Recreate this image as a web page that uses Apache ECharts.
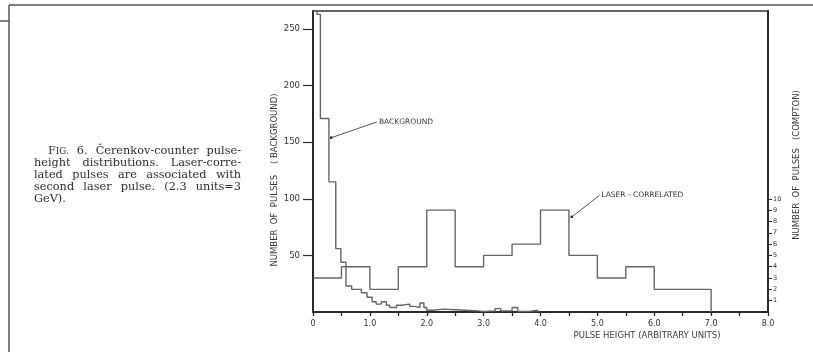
<!DOCTYPE html>
<html><head><meta charset="utf-8">
<script src="https://cdn.jsdelivr.net/npm/echarts@6/dist/echarts.min.js"></script>
<style>html,body{margin:0;padding:0;background:#fff}#c{width:813px;height:352px}</style>
</head><body><div id="c"></div>
<script>
// ---- data ----
const bgEdges  = [0,0.07,0.13,0.28,0.40,0.49,0.58,0.68,0.85,0.95,1.04,1.11,1.20,1.29,1.35,1.47,1.55,1.70,1.79,1.88,1.95,2.00,2.10,2.30,2.50,2.70,2.90,3.00,3.20,3.30,3.50,3.60,3.80,3.95];
const bgCounts = [266,263,171,115,56,44,23,20,17,13,9,7,9,6,4,6,7,5,4,8,4,1.5,2.5,2,1.5,1,0.5,1,3,1,4,0.5,1.5];
const laserEdges  = [0,0.5,1.0,1.5,2.0,2.5,3.0,3.5,4.0,4.5,5.0,5.5,6.0,7.0];
const laserCounts = [3,4,2,4,9,4,5,6,9,5,3,4,2];
const xTickValues = [0,1,2,3,4,5,6,7,8];
const leftTickValues = [50,100,150,200,250];
const rightTickValues = [1,2,3,4,5,6,7,8,9,10];
const captionLines = [
  "F|IG.| 6. Čerenkov-counter pulse-",
  "height distributions. Laser-corre-",
  "lated pulses are associated with",
  "second laser pulse. (2.3 units=3",
  "GeV)."
];
const xName = "PULSE HEIGHT (ARBITRARY UNITS)";
const leftName = "NUMBER  OF  PULSES    ( BACKGROUND)";
const rightName = "NUMBER  OF  PULSES   (COMPTON)";
// annotations in data coordinates: [label, seriesIndex, textX, textY, tipX, tipY]
const annotations = [
  ["BACKGROUND", 0, 1.16, 168, 0.32, 154],
  ["LASER - CORRELATED", 1, 5.07, 10.3, 4.55, 8.4]
];

function stepData(edges, counts){
  const d = [];
  for (let i = 0; i < counts.length; i++) d.push([edges[i], counts[i]]);
  d.push([edges[counts.length], counts[counts.length-1]]);
  d.push([edges[counts.length], 0]);
  return d;
}

const chart = echarts.init(document.getElementById('c'), null, {renderer:'canvas'});
const lab = {fontFamily:'DejaVu Sans', color:'#333'};
const lineCol = '#666';
chart.setOption({
  animation:false,
  backgroundColor:'#fff',
  grid:{left:313, right:45, top:11, bottom:40, show:true, borderColor:'#333', borderWidth:1.6, backgroundColor:'transparent'},
  xAxis:{type:'value', min:0, max:8, interval:1,
    axisLine:{lineStyle:{color:'#2a2a2a', width:2}},
    axisTick:{show:true, length:4, lineStyle:{color:'#2a2a2a', width:1.3}},
    minorTick:{show:true, splitNumber:2, length:4, lineStyle:{color:'#2a2a2a', width:1.3}},
    splitLine:{show:false},
    axisLabel:Object.assign({fontSize:8, margin:8, formatter:v => v === 0 ? '0' : v.toFixed(1)}, lab)
  },
  yAxis:[
    {type:'value', min:0, max:266, position:'left',
      axisLine:{show:true, lineStyle:{color:'#2a2a2a', width:2}},
      axisTick:{show:true, length:10, customValues:leftTickValues, lineStyle:{color:'#2a2a2a', width:1.2}},
      axisLabel:Object.assign({fontSize:8.5, margin:13, customValues:leftTickValues}, lab),
      splitLine:{show:false}
    },
    {type:'value', min:0, max:26.6, position:'right',
      axisLine:{show:true, lineStyle:{color:'#2a2a2a', width:2}},
      axisTick:{show:true, length:4, customValues:rightTickValues, lineStyle:{color:'#2a2a2a', width:1}},
      axisLabel:Object.assign({fontSize:6.5, margin:5, customValues:rightTickValues}, lab),
      splitLine:{show:false}
    }
  ],
  series:[
    {type:'line', name:'Background', yAxisIndex:0, step:'end', symbol:'none',
      data:stepData(bgEdges, bgCounts), lineStyle:{color:lineCol, width:1.4}},
    {type:'line', name:'Laser-correlated', yAxisIndex:1, step:'end', symbol:'none',
      data:stepData(laserEdges, laserCounts), lineStyle:{color:lineCol, width:1.4}}
  ]
});

// ---- decorations ----
const g = [];
// page frame (scan border)
g.push({type:'line', shape:{x1:9, y1:5, x2:813, y2:5}, style:{stroke:'#555', lineWidth:1.5}});
g.push({type:'line', shape:{x1:9, y1:5, x2:9, y2:352}, style:{stroke:'#555', lineWidth:1.5}});
g.push({type:'line', shape:{x1:0, y1:21, x2:9, y2:21}, style:{stroke:'#555', lineWidth:1.5}});

// caption, justified word by word
const capFont = '11.3px "DejaVu Serif"';
const capSmall = '8.7px "DejaVu Serif"';
const ctx = document.createElement('canvas').getContext('2d');
function measure(word){
  const parts = word.split('|');
  let w = 0;
  parts.forEach((p,i)=>{ ctx.font = (i % 2 === 1) ? capSmall : capFont; w += ctx.measureText(p).width; });
  return w;
}
const capRight = 241, capY0 = 157, capDy = 11.8;
captionLines.forEach((line, li) => {
  const left = li === 0 ? 48 : 34;
  const words = line.split(' ');
  const ws = words.map(measure);
  const total = ws.reduce((a,b)=>a+b,0);
  const justify = li < captionLines.length - 1 && words.length > 1;
  const gap = justify ? Math.max(2, (capRight - left - total) / (words.length - 1)) : 3.4;
  let x = left;
  words.forEach((w, wi) => {
    const parts = w.split('|');
    let px = x;
    parts.forEach((p, pi) => {
      if (!p) return;
      const small = pi % 2 === 1;
      g.push({type:'text', x:px, y:capY0 + li*capDy + (small ? -0.6 : 0), style:{text:p, font:small ? capSmall : capFont, fill:'#2e2e2e', verticalAlign:'bottom', align:'left'}});
      ctx.font = small ? capSmall : capFont;
      px += ctx.measureText(p).width;
    });
    x += ws[wi] + gap;
  });
});

// axis names
g.push({type:'text', x:647, y:336, style:{text:xName, font:'8.5px "DejaVu Sans"', fill:'#3a3a3a', align:'center', verticalAlign:'middle'}});
g.push({type:'text', x:275, y:180, rotation:Math.PI/2, style:{text:leftName, font:'8.5px "DejaVu Sans"', fill:'#3a3a3a', align:'center', verticalAlign:'middle'}});
g.push({type:'text', x:797, y:165, rotation:Math.PI/2, style:{text:rightName, font:'8.5px "DejaVu Sans"', fill:'#3a3a3a', align:'center', verticalAlign:'middle'}});

// annotations
annotations.forEach(a => {
  const t = chart.convertToPixel({seriesIndex:a[1]}, [a[2], a[3]]);
  const p = chart.convertToPixel({seriesIndex:a[1]}, [a[4], a[5]]);
  g.push({type:'line', shape:{x1:t[0]-2, y1:t[1], x2:p[0], y2:p[1]}, style:{stroke:'#555', lineWidth:1}});
  g.push({type:'circle', shape:{cx:p[0], cy:p[1], r:1.4}, style:{fill:'#333'}});
  g.push({type:'text', x:t[0], y:t[1], style:{text:a[0], font:'7.5px "DejaVu Sans"', fill:'#3a3a3a', align:'left', verticalAlign:'middle'}});
});

chart.setOption({graphic:g});
</script>
</body></html>
